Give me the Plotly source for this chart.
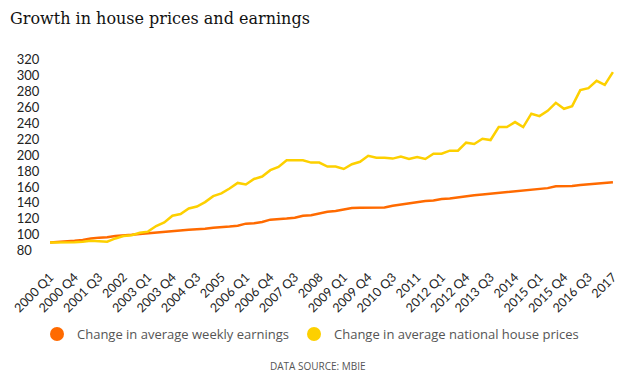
import plotly.graph_objects as go

quarters = []
for yr in range(2000, 2018):
    for q in range(1, 5):
        if yr == 2017 and q > 2:
            break
        quarters.append(f"{yr}" if q == 2 else f"{yr} Q{q}")

earnings = [90.5, 91, 91.5, 92.5, 93.5, 95.5, 96.5, 97, 98.5, 99,
            100, 101, 102, 102.5, 103.5, 104.5, 105.5, 106.5, 107, 107.5,
            109, 109.5, 110.5, 111.5, 114, 114.5, 116, 119, 119.5, 120.5,
            121.5, 124, 124.5, 126.5, 129, 130, 132, 133.5, 134, 134.2,
            134.2, 134.2, 136.5, 138, 139, 140.5, 142.5, 143, 145, 145.5,
            147, 148, 149.5, 150.5, 151.5, 152.5, 153.5, 154.5, 155.5, 156.5,
            157.5, 158.5, 160.8, 161, 161.3, 162.5, 163.3, 164, 165, 166]

house_prices = [90.5, 90.5, 90.3, 90.8, 91.5, 92.5, 92, 91.5, 95.5, 98.5,
                99.5, 102.5, 104, 111, 115.5, 124, 126, 133, 135.5, 141,
                148.5, 152, 158, 165, 163, 170, 173, 181, 185, 193.5,
                193.5, 193.5, 190.5, 190.5, 185.5, 185.5, 182.5, 188.5, 191.5, 199,
                196.5, 196.5, 195.5, 198, 195, 197.5, 195, 201.7, 201.7, 205.4,
                205.4, 215.4, 213.75, 220.4, 218.75, 235, 235, 241.25, 235, 251.7,
                248.75, 255.4, 265.4, 257.9, 261.25, 281.25, 283.75, 292.9, 287.9, 303.75]

series_names = ["Change in average weekly earnings", "Change in average national house prices"]
colors = ["#FF6A00", "#FDD000"]

y_ticks = list(range(80, 340, 20))
y_ticktext = [(str(v) + "\u2007") if v < 100 else str(v) for v in y_ticks]

fig = go.Figure()
for name, vals, col in zip(series_names, [earnings, house_prices], colors):
    fig.add_trace(go.Scatter(x=quarters, y=vals, mode="lines", name=name,
                             line=dict(color=col, width=2.5), showlegend=False,
                             hoverinfo="x+y"))
for name, col in zip(series_names, colors):
    fig.add_trace(go.Scatter(x=[None], y=[None], mode="markers", name=name,
                             marker=dict(color=col, size=14, symbol="circle")))

fig.update_layout(
    width=637, height=375,
    margin=dict(l=46, r=20, t=56, b=121, autoexpand=False),
    paper_bgcolor="white", plot_bgcolor="white",
    title=dict(text="Growth in house prices and earnings", x=10 / 637, xref="container",
               xanchor="left", y=1 - 18 / 375, yref="container", yanchor="middle",
               font=dict(family="DejaVu Serif", size=16, color="#111")),
    xaxis=dict(type="category", range=[-0.5, len(quarters) - 0.5], automargin=False,
               tickmode="array", tickvals=quarters[::3], ticktext=quarters[::3],
               tickangle=-45, showgrid=False, zeroline=False, showline=False,
               ticks="outside", ticklen=10, tickcolor="rgba(0,0,0,0)",
               tickfont=dict(family="Lato", size=12.5, color="#222")),
    yaxis=dict(range=[76, 324], tickmode="array", tickvals=y_ticks, ticktext=y_ticktext,
               automargin=False, showgrid=False, zeroline=False, showline=False,
               ticks="outside", ticklen=3, tickcolor="rgba(0,0,0,0)",
               tickfont=dict(family="Lato", size=13, color="#222")),
    legend=dict(orientation="h", x=0.5 - 8 / 637, xref="container", xanchor="center",
                y=1 - 334 / 375, yref="container", yanchor="middle",
                font=dict(family="Open Sans", size=13, color="#555"),
                itemsizing="trace"),
    showlegend=True,
)
fig.add_annotation(text="DATA SOURCE: MBIE", xref="paper", yref="paper",
                   x=(318 - 46) / 571, xanchor="center", y=(254 - 366) / 198, yanchor="middle",
                   showarrow=False, font=dict(family="Open Sans", size=10, color="#555"))

fig.write_html("out.html", config={"displayModeBar": False},
               post_script="document.body.style.margin='0';document.body.style.overflow='hidden';")
